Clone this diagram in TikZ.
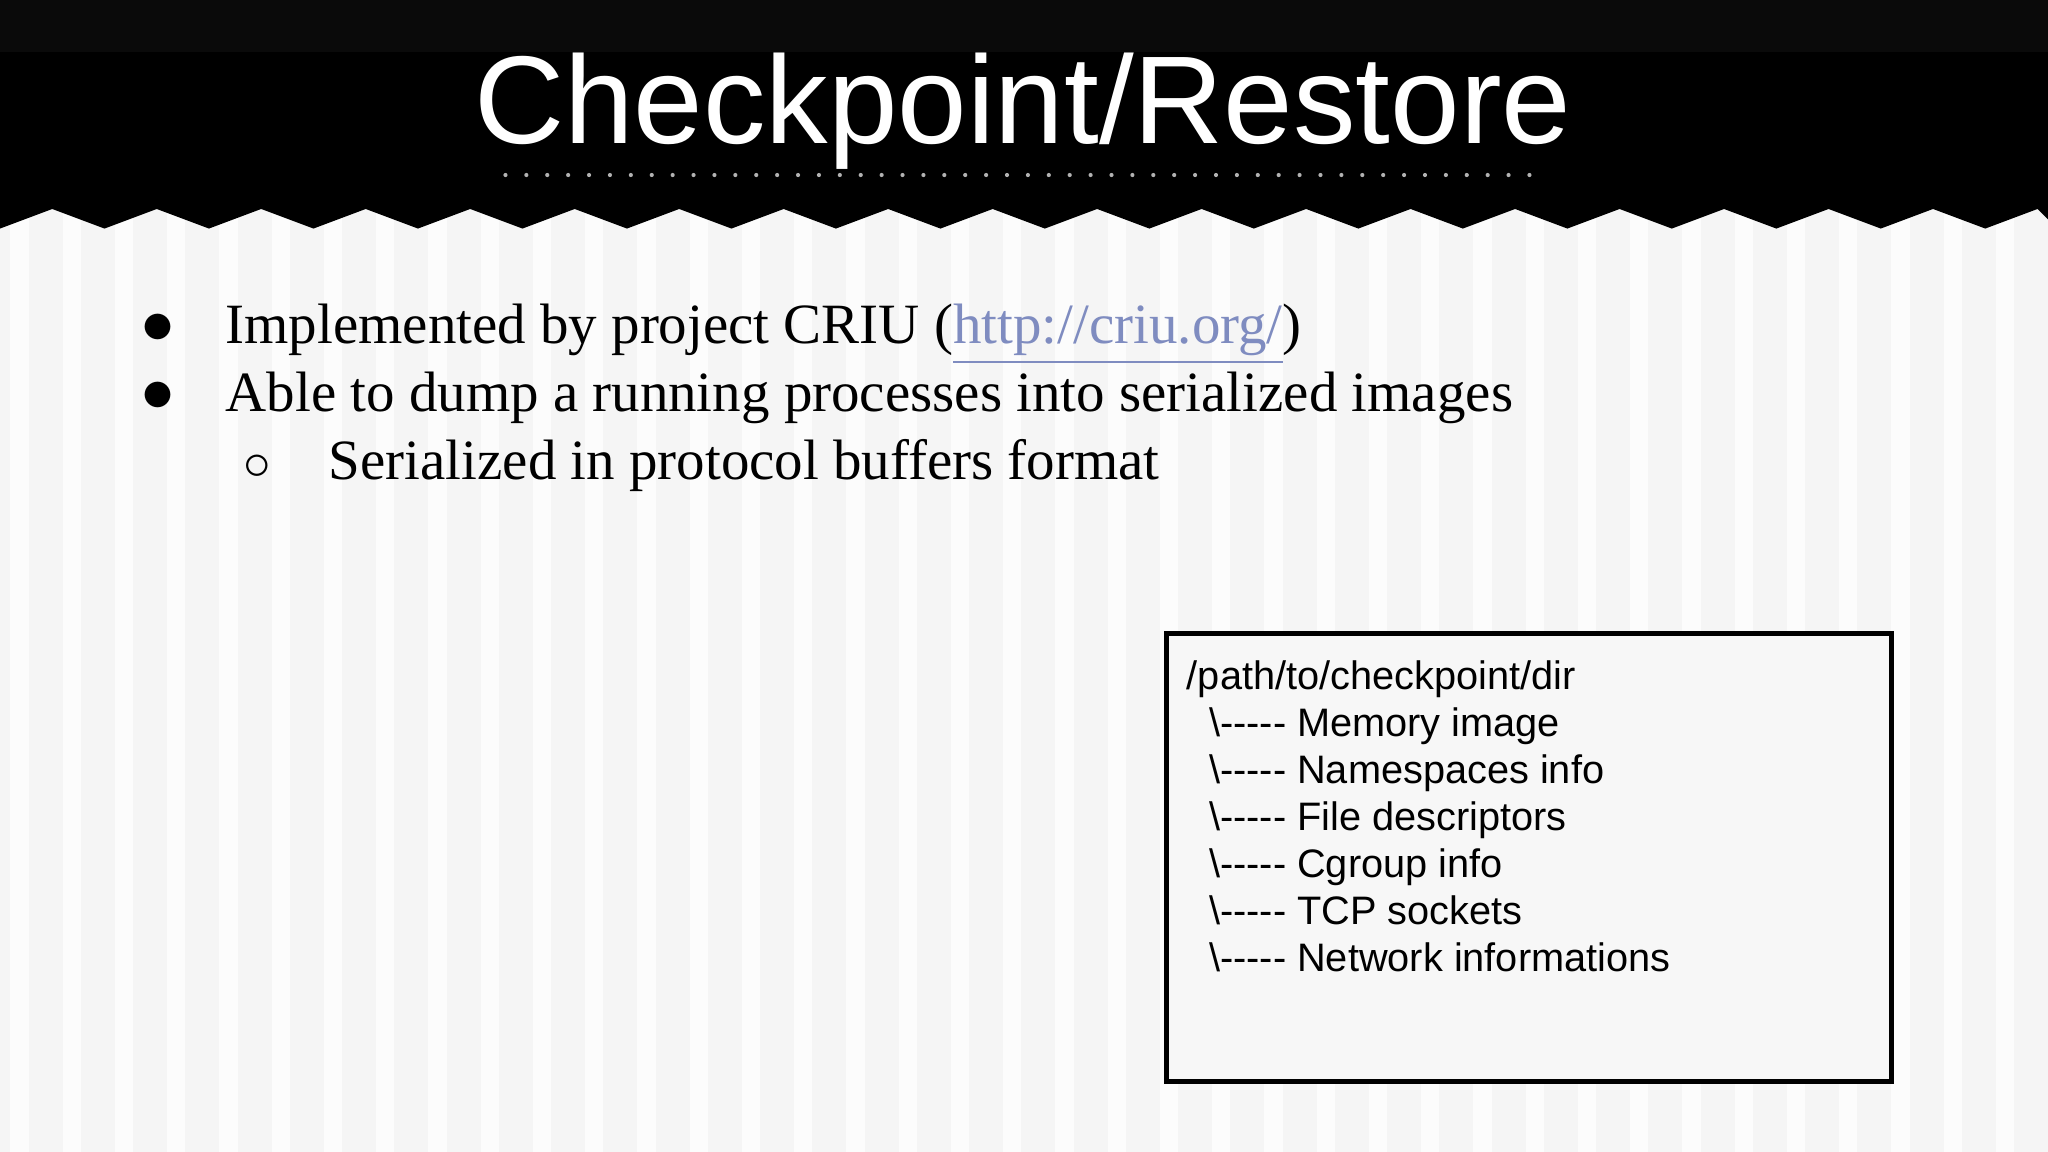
\documentclass[tikz,border=0pt]{standalone}
\usepackage{fontspec}
\setmainfont{Liberation Serif}
\newfontfamily\sans{Liberation Sans}
\begin{document}
\begin{tikzpicture}[x=0.01cm,y=-0.01cm,
  bul/.style={anchor=base west,inner sep=0pt,font=\fontsize{12.4}{15}\selectfont},
  boxt/.style={anchor=base west,inner sep=0pt,font=\sans\fontsize{8.65}{10}\selectfont}]
\useasboundingbox (0,0) rectangle (1568,882);
\fill[white!96!black] (0,0) rectangle (1568,882);
\foreach \i in {0,...,39}{\fill[white!99!black] (\i*40+8,160) rectangle (\i*40+22,882);}
\fill[black] (0,0) -- (1568,0) -- (1568,168)
  \foreach \i in {19,...,0}{ -- (\i*80+40,160) -- (\i*80,175)} -- cycle;
\fill[black!96] (0,0) rectangle (1568,40);
\node[anchor=base,inner sep=0pt,text=white,font=\sans\fontsize{27.2}{30}\selectfont] (title) at (783,110) {Checkpoint/Restore};
\foreach \i in {0,...,49}{\fill[gray!60] (387+\i*16,134) circle (1.6);}
\node[bul] (b1) at (108,263) {\Large$\bullet$};
\node[bul] (t1) at (172,263) {Implemented by project CRIU (\textcolor[HTML]{7F8CC0}{\underline{http://criu.org/}})};
\node[bul] (b2) at (108,315) {\Large$\bullet$};
\node[bul] (t2) at (172,315) {Able to dump a running processes into serialized images};
\node[bul] (b3) at (186,367) {$\circ$};
\node[bul] (t3) at (251,367) {Serialized in protocol buffers format};
\draw[line width=1pt,fill=white!97!black] (893,485) rectangle (1448,828);
\node[boxt] (p0) at (908,528) {/path/to/checkpoint/dir};
\foreach \t [count=\k] in {Memory image,Namespaces info,File descriptors,Cgroup info,TCP sockets,Network informations}
  \node[boxt] (p\k) at (925,528+\k*36) {\textbackslash{}----- \t};
\end{tikzpicture}
\end{document}
